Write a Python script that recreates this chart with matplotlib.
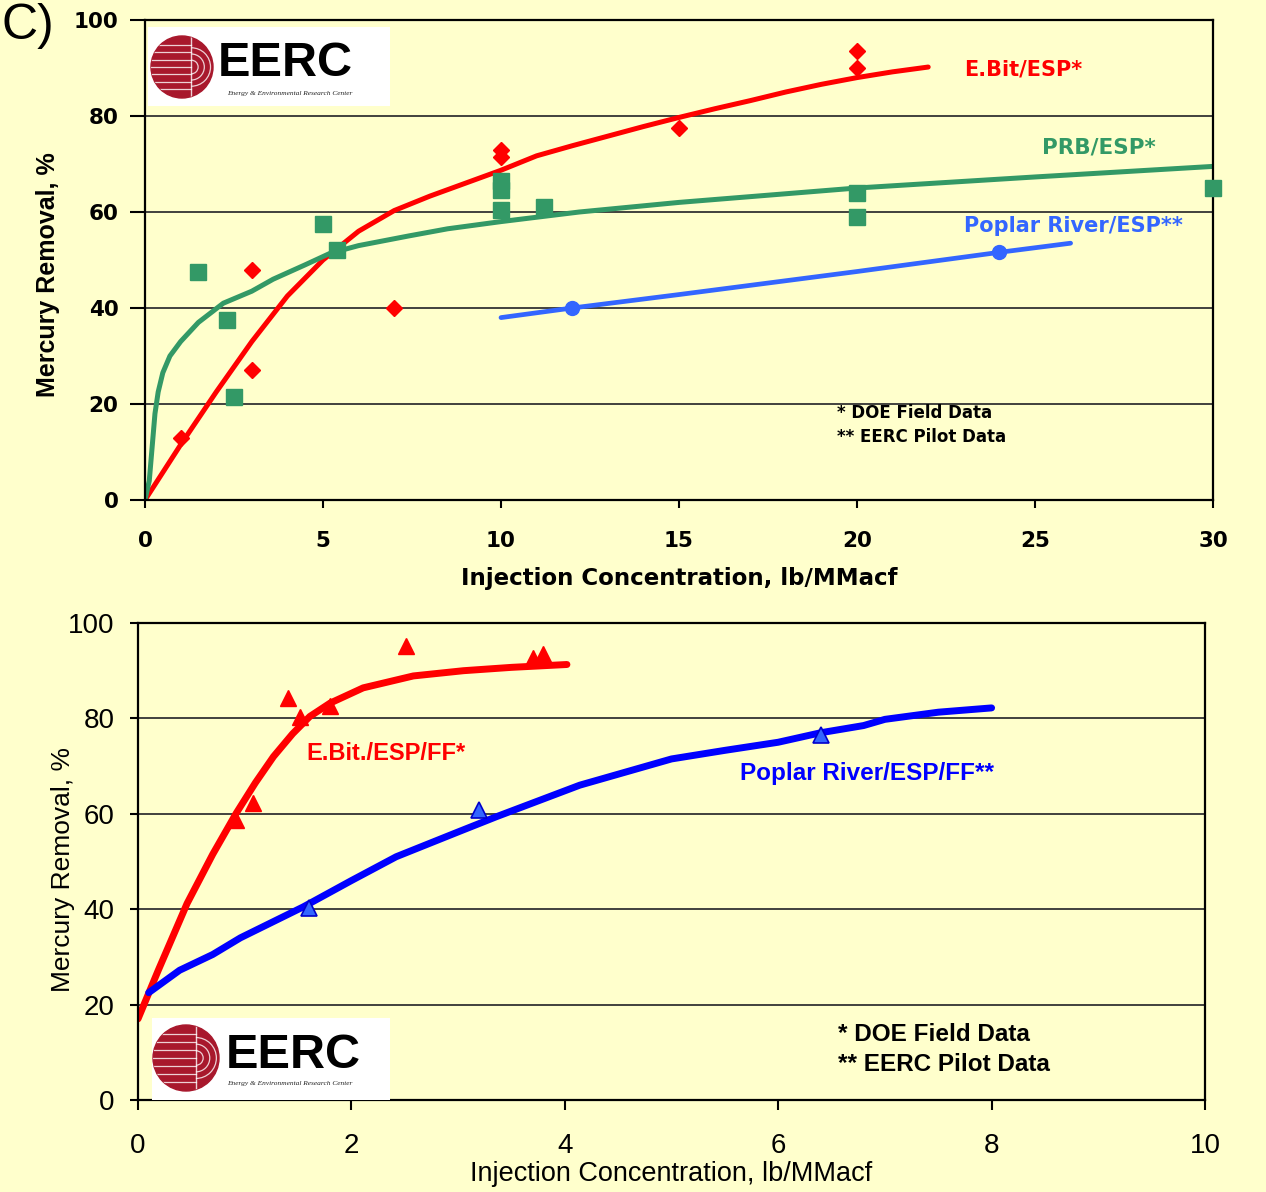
#!/usr/bin/env python3

import matplotlib
matplotlib.use('Agg')
import matplotlib.pyplot as plt
from matplotlib.patches import Circle, Arc

BG = '#FFFFCC'
RED = '#FF0000'
GREEN = '#339966'
BLUE_TOP = '#3366FF'
BLUE_BOT = '#0000FF'

# ---- top panel data (lb/MMacf vs % removal)
ebit_x = [1, 3, 3, 7, 10, 10, 15, 20, 20]
ebit_y = [13, 48, 27, 40, 73, 71.5, 77.5, 93.5, 90]
ebit_fit_x = [0, 1, 2, 3, 4, 5, 6, 7, 8, 9, 10, 11, 12, 13, 14, 15, 16, 17, 18, 19, 20, 21, 22]
ebit_fit_y = [0, 11.5, 22.5, 33, 42.5, 50, 56, 60.3, 63.3, 66, 68.7, 71.7, 73.8, 75.8,
              77.8, 79.7, 81.5, 83.2, 85, 86.6, 88, 89.2, 90.2]

prb_x = [1.5, 2.3, 2.5, 5, 5.4, 10, 10, 10, 11.2, 20, 20, 30]
prb_y = [47.5, 37.5, 21.5, 57.5, 52, 66.5, 64.5, 60.5, 61, 64, 59, 65]
prb_fit_x = [0, 0.12, 0.2, 0.28, 0.37, 0.5, 0.7, 1, 1.5, 2.2, 3, 3.6, 4.5, 5.2, 6, 7.4, 8.5,
             10, 12.2, 15, 20, 25, 30]
prb_fit_y = [0, 4, 11, 18, 22.5, 26.5, 30, 33, 37, 41, 43.5, 46, 49, 51.4, 53, 55, 56.5,
             58, 60, 62, 65, 67.3, 69.5]

poplar_x = [12, 24]
poplar_y = [40, 51.7]
poplar_fit_x = [10, 12, 15, 20, 24, 26]
poplar_fit_y = [38, 40, 42.8, 47.6, 51.6, 53.5]

# ---- bottom panel data
ebitff_x = [0.92, 1.08, 1.41, 1.52, 1.8, 2.51, 3.7, 3.8]
ebitff_y = [58.7, 62.2, 84.3, 80.2, 82.6, 95.2, 92.6, 93.5]
ebitff_fit_x = [0, 0.19, 0.46, 0.7, 0.92, 1.1, 1.27, 1.45, 1.61, 1.8, 2.11, 2.58, 3.05, 3.5, 4.02]
ebitff_fit_y = [17, 27.2, 41.2, 51.5, 60.1, 66.5, 72, 76.8, 80.4, 83.2, 86.4, 88.9, 90, 90.7, 91.3]

ppff_x = [1.6, 3.2, 6.4]
ppff_y = [40.3, 60.8, 76.5]
ppff_fit_x = [0.1, 0.39, 0.7, 0.96, 1.55, 2, 2.42, 3, 3.36, 4.14, 5, 5.5, 6, 6.4, 6.8, 7, 7.5, 8]
ppff_fit_y = [22.5, 27.2, 30.5, 34, 40.5, 46, 51, 56.2, 59.4, 66, 71.5, 73.3, 75, 77,
              78.5, 79.8, 81.3, 82.2]

top_xticks = [0, 5, 10, 15, 20, 25, 30]
bot_xticks = [0, 2, 4, 6, 8, 10]
yticks = [0, 20, 40, 60, 80, 100]

W, H = 1266, 1192


def px_rect(x0, y0, x1, y1):
    return [x0 / W, 1 - y1 / H, (x1 - x0) / W, (y1 - y0) / H]


def draw_logo(fig, box, cx, cy, r, text_x, text_y, sub_x, sub_y):
    x0, y0, x1, y1 = box
    lax = fig.add_axes(px_rect(x0, y0, x1, y1))
    lax.set_xlim(0, x1 - x0)
    lax.set_ylim(y1 - y0, 0)
    lax.set_facecolor('white')
    lax.set_xticks([])
    lax.set_yticks([])
    for s in lax.spines.values():
        s.set_visible(False)
    cx, cy = cx - x0, cy - y0
    disc = Circle((cx, cy), r, color='#A8182C')
    lax.add_patch(disc)
    vx = cx + 0.3 * r
    for k in range(-3, 4):
        yy = cy + k * r * 0.24
        ln, = lax.plot([cx - r, vx], [yy, yy], color='white', lw=0.9, alpha=0.8)
        ln.set_clip_path(disc)
    ln, = lax.plot([vx, vx], [cy - r, cy + r], color='white', lw=1.0, alpha=0.8)
    ln.set_clip_path(disc)
    for rr in (0.22, 0.42, 0.62):
        arc = Arc((vx, cy), 2 * rr * r, 2 * rr * r, theta1=-90, theta2=90,
                  color='white', lw=0.9, alpha=0.8)
        lax.add_patch(arc)
        arc.set_clip_path(disc)
    lax.text(text_x - x0, text_y - y0, 'EERC', fontsize=35, fontweight='bold',
             family='Liberation Sans', color='black', ha='left', va='center')
    lax.text(sub_x - x0, sub_y - y0, 'Energy & Environmental Research Center',
             fontsize=5.3, style='italic', family='Liberation Serif',
             color='#222222', ha='left', va='center')


def style_axes(ax, xticks, xmax, tickfont, bold, ylen, ypad, xlen, xpad):
    ax.set_facecolor(BG)
    ax.set_xlim(0, xmax)
    ax.set_ylim(0, 100)
    ax.set_xticks(xticks)
    ax.set_yticks(yticks)
    ax.grid(axis='y', color='#333333', lw=1.3)
    ax.grid(axis='x', visible=False)
    ax.set_axisbelow(True)
    for s in ax.spines.values():
        s.set_color('black')
        s.set_linewidth(1.6)
    ax.tick_params(axis='y', direction='out', length=ylen, width=1.5, pad=ypad,
                   labelsize=tickfont)
    ax.tick_params(axis='x', direction='out', length=xlen, width=1.5, pad=xpad,
                   labelsize=tickfont)
    for lbl in ax.get_xticklabels() + ax.get_yticklabels():
        if bold:
            lbl.set_fontweight('bold')
        else:
            lbl.set_family('Liberation Sans')


fig = plt.figure(figsize=(W / 100, H / 100), dpi=100, facecolor=BG)

# ---------------- top panel
ax1 = fig.add_axes(px_rect(145, 20, 1213, 500))
style_axes(ax1, top_xticks, 30, 15.5, True, 11, 8, 6, 16)

ax1.plot(ebit_fit_x, ebit_fit_y, color=RED, lw=3.6, zorder=2, solid_capstyle='round')
ax1.plot(prb_fit_x, prb_fit_y, color=GREEN, lw=3.6, zorder=2, solid_capstyle='round')
ax1.plot(poplar_fit_x, poplar_fit_y, color=BLUE_TOP, lw=3.4, zorder=2, solid_capstyle='round')
ax1.plot(ebit_x, ebit_y, 'D', color=RED, ms=8.5, zorder=3)
ax1.plot(prb_x, prb_y, 's', color=GREEN, ms=11, zorder=3, clip_on=False)
ax1.plot(poplar_x, poplar_y, 'o', color=BLUE_TOP, ms=10, zorder=3)

ax1.text(23.0, 89.6, 'E.Bit/ESP*', color=RED, fontsize=15, fontweight='bold', va='center')
ax1.text(25.2, 73.5, 'PRB/ESP*', color=GREEN, fontsize=15.5, fontweight='bold', va='center')
ax1.text(23.0, 57.1, 'Poplar River/ESP**', color=BLUE_TOP, fontsize=15,
         fontweight='bold', va='center')
ax1.text(19.44, 18.1, '* DOE Field Data', fontsize=12, fontweight='bold', va='center')
ax1.text(19.44, 13.1, '** EERC Pilot Data', fontsize=12, fontweight='bold', va='center')

ax1.set_xlabel('Injection Concentration, lb/MMacf', fontsize=16.5, fontweight='bold')
ax1.xaxis.set_label_coords(0.5, -0.14)
ax1.set_ylabel('Mercury Removal, %', fontsize=18, fontweight='bold', family='Liberation Sans')
ax1.yaxis.set_label_coords(-0.0796, 0.469)

# ---------------- bottom panel
ax2 = fig.add_axes(px_rect(138, 623, 1205, 1100))
style_axes(ax2, bot_xticks, 10, 20, False, 6, 11, 7, 17)

ax2.plot(ebitff_fit_x, ebitff_fit_y, color=RED, lw=5, zorder=2, solid_capstyle='round')
ax2.plot(ppff_fit_x, ppff_fit_y, color=BLUE_BOT, lw=5, zorder=2, solid_capstyle='round')
ax2.plot(ebitff_x, ebitff_y, '^', color=RED, ms=11, zorder=3)
ax2.plot(ppff_x, ppff_y, '^', mfc=BLUE_TOP, mec='#0000CC', mew=1.2, ms=12, zorder=3)

ax2.text(1.58, 72.7, 'E.Bit./ESP/FF*', color=RED, fontsize=17, fontweight='bold',
         family='Liberation Sans', va='center')
ax2.text(5.64, 68.5, 'Poplar River/ESP/FF**', color=BLUE_BOT, fontsize=17.5,
         fontweight='bold', family='Liberation Sans', va='center')
ax2.text(6.56, 13.8, '* DOE Field Data', fontsize=17.5, fontweight='bold',
         family='Liberation Sans', va='center')
ax2.text(6.56, 7.5, '** EERC Pilot Data', fontsize=17.5, fontweight='bold',
         family='Liberation Sans', va='center')

ax2.set_xlabel('Injection Concentration, lb/MMacf', fontsize=19.5, family='Liberation Sans')
ax2.xaxis.set_label_coords(0.5, -0.128)
ax2.set_ylabel('Mercury Removal, %', fontsize=19, family='Liberation Sans')
ax2.yaxis.set_label_coords(-0.059, 0.484)

# ---------------- logos and panel tag
draw_logo(fig, (148, 27, 390, 106), 182, 67, 31, 218, 63, 227, 93)
draw_logo(fig, (152, 1018, 390, 1100), 186, 1058, 33, 226, 1055, 227, 1084)

fig.text(2 / W, 1 - 26 / H, 'C)', fontsize=36, family='Liberation Sans',
         ha='left', va='center')

fig.savefig('out.png', dpi=100, facecolor=BG)
